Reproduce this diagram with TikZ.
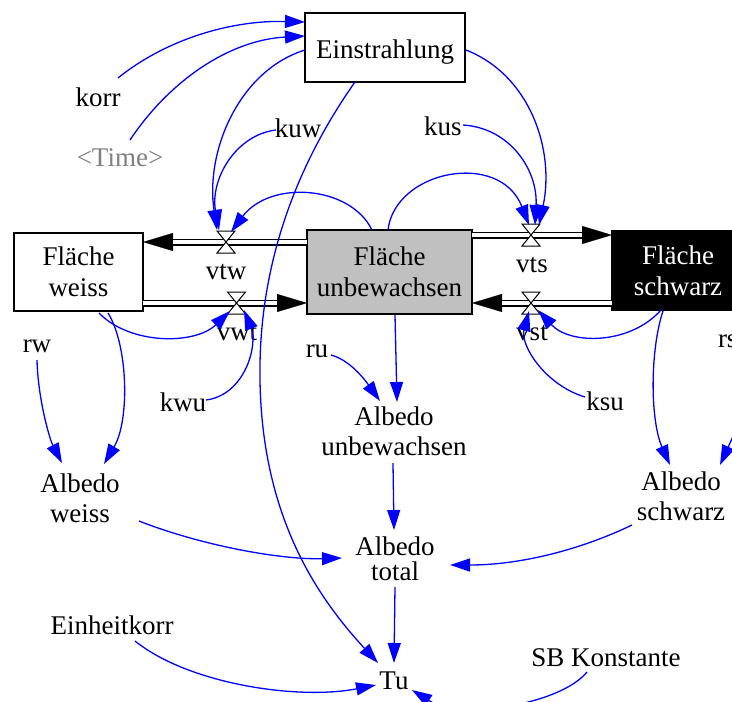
\documentclass[tikz,border=0pt]{standalone}
\usepackage{fontspec}
\setmainfont{Liberation Serif}
\usetikzlibrary{arrows.meta}
\definecolor{linkblue}{RGB}{0,0,255}
\definecolor{unbgray}{RGB}{192,192,192}
\definecolor{timegray}{RGB}{128,128,128}
\begin{document}
\begin{tikzpicture}[x=1pt,y=-1pt,
  every node/.style={inner sep=0pt, outer sep=0pt},
  txt/.style={font=\fontsize{27}{31}\selectfont, anchor=base},
  two/.style={font=\fontsize{27}{#1}\selectfont, align=center},
  stockbox/.style={draw=black, line width=1.2pt, align=center, font=\fontsize{27}{31}\selectfont},
  link/.style={draw=linkblue, line width=1.3pt, -{Triangle[length=20pt,width=13pt]}},
  pipeblack/.style={draw=black, line width=7pt, -{Triangle[length=30pt,width=18pt,line width=0.1pt]}},
  pipewhite/.style={draw=white, line width=3.4pt, shorten >=30pt},
  valvebox/.style={minimum width=18pt, minimum height=22pt},
  valveshape/.style={draw=black, fill=white, line width=1pt, line join=miter}
]
\useasboundingbox (0,0) rectangle (732,702);
\clip (0,0) rectangle (732,702);

% stocks
\node[stockbox, fill=white, minimum width=160pt, minimum height=69pt, text height=22pt, text depth=1pt] (Ein) at (385,47.5) {Einstrahlung};
\node[stockbox, fill=white, minimum width=129pt, minimum height=78pt] (FW) at (78.5,272) {Fläche\\weiss};
\node[stockbox, fill=unbgray, minimum width=165pt, minimum height=84pt] (FU) at (389.5,272) {Fläche\\unbewachsen};
\node[stockbox, fill=black, text=white, minimum width=132pt, minimum height=79pt] (FS) at (678,270.5) {Fläche\\schwarz};

% valve anchors
\node[valvebox] (vtwv) at (226,242) {};
\node[valvebox] (vwtv) at (236.5,303) {};
\node[valvebox] (vtsv) at (531,235) {};
\node[valvebox] (vstv) at (531,303) {};

% pipes
\draw[pipeblack] (FU.west |- vtwv.center) -- (FW.east |- vtwv.center);
\draw[pipewhite] (FU.west |- vtwv.center) -- (FW.east |- vtwv.center);
\draw[pipeblack] (FW.east |- vwtv.center) -- (FU.west |- vwtv.center);
\draw[pipewhite] (FW.east |- vwtv.center) -- (FU.west |- vwtv.center);
\draw[pipeblack] (FU.east |- vtsv.center) -- (FS.west |- vtsv.center);
\draw[pipewhite] (FU.east |- vtsv.center) -- (FS.west |- vtsv.center);
\draw[pipeblack] (FS.west |- vstv.center) -- (FU.east |- vstv.center);
\draw[pipewhite] (FS.west |- vstv.center) -- (FU.east |- vstv.center);

% valves
\foreach \v in {vtwv,vwtv,vtsv,vstv}{
  \draw[valveshape] (\v.north west) -- (\v.north east) -- (\v.south west) -- (\v.south east) -- cycle;
}

% texts
\node[txt] (korr) at (98,106) {korr};
\node[txt, text=timegray] (time) at (120,166) {<Time>};
\node[txt] (kuw) at (298,137) {kuw};
\node[txt] (kus) at (443,135) {kus};
\node[txt] (vtw) at (226,279) {vtw};
\node[txt] (vts) at (532,272) {vts};
\node[txt] (vwt) at (237,340) {vwt};
\node[txt] (vst) at (532,340) {vst};
\node[txt] (rw) at (37,352) {rw};
\node[txt] (ru) at (317,357) {ru};
\node[txt] (kwu) at (183,411) {kwu};
\node[txt] (ksu) at (605,410) {ksu};
\node[txt, anchor=base west] (rs) at (718,347) {rs};
\node[txt] (EK) at (112,634) {Einheitkorr};
\node[txt] (SB) at (606,666) {SB Konstante};
\node[txt] (Tu) at (394,689) {Tu};
\node[two=30] (AU) at (394,430.8) {Albedo\\unbewachsen};
\node[two=30] (AW) at (80,497.8) {Albedo\\weiss};
\node[two=30] (AS) at (681,495.8) {Albedo\\schwarz};
\node[two=25] (AT) at (395,558.3) {Albedo\\total};

% links
\draw[link] ([shift={(20,-28)}]korr.base) .. controls (165,40) and (230,20) .. ([shift={(0,9)}]Ein.north west);
\draw[link] ([shift={(10,-26)}]time.base) .. controls (170,80) and (230,40) .. ([shift={(0,23)}]Ein.north west);
\draw[link] ([shift={(0,37)}]Ein.north west) .. controls (240,70) and (205,150) .. ([shift={(-9,-12)}]vtwv.center);
\draw[link] ([shift={(-22,-7)}]kuw.base) .. controls (235,135) and (210,180) .. ([shift={(-7,-12)}]vtwv.center);
\draw[link] ([shift={(-17.5,0)}]FU.north) .. controls (350,185) and (270,180) .. ([shift={(5,-10)}]vtwv.center);
\draw[link] ([shift={(-30,0)}]Ein.south) .. controls (300,160) and (258,260) .. (260,380) .. controls (262,520) and (320,600) .. ([shift={(-16,-26)}]Tu.base);
\draw[link] ([shift={(1,37)}]Ein.north east) .. controls (530,75) and (555,150) .. ([shift={(8,-10)}]vtsv.center);
\draw[link] ([shift={(20,-10)}]kus.base) .. controls (510,128) and (538,170) .. ([shift={(4,-10)}]vtsv.center);
\draw[link] ([shift={(-1.5,0)}]FU.north) .. controls (395,170) and (500,150) .. ([shift={(-2,-10)}]vtsv.center);
\draw[link] ([shift={(20.5,2)}]FW.south) .. controls (130,345) and (195,345) .. ([shift={(-6.5,8)}]vwtv.center);
\draw[link] ([shift={(23,-11)}]kwu.base) .. controls (245,395) and (258,345) .. ([shift={(7.5,7)}]vwtv.center);
\draw[link] ([shift={(29.5,2)}]FW.south) .. controls (128,345) and (130,420) .. ([shift={(24,-33.8)}]AW.center);
\draw[link] ([shift={(0,8)}]rw.base) .. controls (38,400) and (50,440) .. ([shift={(-18,-34.8)}]AW.center);
\draw[link] ([shift={(-17,0)}]FS.south) .. controls (630,345) and (570,345) .. ([shift={(7,7)}]vstv.center);
\draw[link] ([shift={(-20,-13)}]ksu.base) .. controls (545,385) and (520,345) .. ([shift={(-2,8)}]vstv.center);
\draw[link] ([shift={(-15,1)}]FS.south) .. controls (650,350) and (650,420) .. ([shift={(-11,-30.8)}]AS.center);
\draw[link] ([shift={(22,18)}]rs.base west) .. controls (745,410) .. ([shift={(39,-30.8)}]AS.center);
\draw[link] ([shift={(5.5,1)}]FU.south) -- ([shift={(3,-28.8)}]AU.center);
\draw[link] ([shift={(14,-2)}]ru.base) .. controls (350,360) and (365,380) .. ([shift={(-14,-29.8)}]AU.center);
\draw[link] ([shift={(-1,32.2)}]AU.center) -- ([shift={(-1,-28.3)}]AT.center);
\draw[link] ([shift={(59,23.2)}]AW.center) .. controls (200,545) and (280,560) .. ([shift={(-53,-0.3)}]AT.center);
\draw[link] ([shift={(-49,29.2)}]AS.center) .. controls (580,550) and (520,565) .. ([shift={(55,6.7)}]AT.center);
\draw[link] ([shift={(0,28.7)}]AT.center) -- ([shift={(0,-26)}]Tu.base);
\draw[link] ([shift={(23,7)}]EK.base) .. controls (190,685) and (300,700) .. ([shift={(-18,-4)}]Tu.base);
\draw[link] ([shift={(-19,6)}]SB.base) .. controls (560,705) and (460,720) .. ([shift={(18,1)}]Tu.base);
\end{tikzpicture}
\end{document}
